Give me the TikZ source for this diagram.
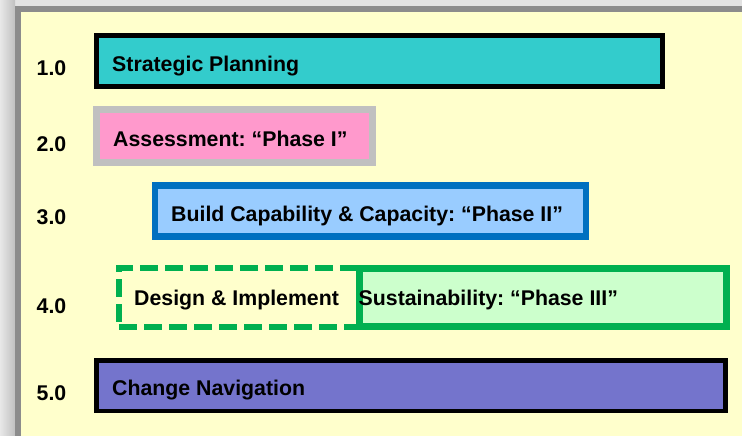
\documentclass[tikz,border=0pt]{standalone}
\usepackage{fontspec}
\setmainfont{Liberation Sans}
\frenchspacing
\begin{document}
\begin{tikzpicture}[x=1pt,y=-1pt,
  txt/.style={font=\fontsize{21.3}{25}\selectfont\bfseries, anchor=base west, inner sep=0pt, text=black},
  bar/.style={rectangle, inner sep=0pt, outer sep=0pt},
]
\definecolor{pagegray}{HTML}{E2E2E2}
\definecolor{framegray}{HTML}{8C8C8C}
\definecolor{panel}{HTML}{FFFFCC}
\definecolor{teal}{HTML}{33CCCC}
\definecolor{pinkfill}{HTML}{FF99CC}
\definecolor{silver}{HTML}{C0C0C0}
\definecolor{skyfill}{HTML}{99CCFF}
\definecolor{blueline}{HTML}{0070C0}
\definecolor{greenline}{HTML}{00B050}
\definecolor{mintfill}{HTML}{CCFFCC}
\definecolor{violet}{HTML}{7474CC}

\useasboundingbox (0,0) rectangle (742,436);
\clip (0,0) rectangle (742,436);

% page and framed panel
\fill[pagegray] (0,0) rectangle (742,436);
\shade[left color=pagegray!80!white, right color=pagegray!85!black] (0,0) rectangle (15,436);
\fill[framegray] (15,6) rectangle (750,450);
\fill[panel] (21,12) rectangle (750,450);

% phase bars
\node[bar, draw=black, fill=teal, line width=5pt,
      minimum width=565.9pt, minimum height=51pt] (sp) at (379.75,61.3) {};
\node[bar, draw=silver, fill=pinkfill, line width=7pt,
      minimum width=275.8pt, minimum height=53pt] (as) at (234.1,136) {};
\node[bar, draw=blueline, fill=skyfill, line width=6.5pt,
      minimum width=431pt, minimum height=51.2pt] (bc) at (370.5,211.1) {};
\node[bar, draw=greenline, line width=6pt, dash pattern=on 18pt off 7pt,
      minimum width=240pt, minimum height=59pt] (di) at (239,297.5) {};
\node[bar, draw=greenline, fill=mintfill, line width=7pt,
      minimum width=367pt, minimum height=58pt] (su) at (543,297.5) {};
\node[bar, draw=black, fill=violet, line width=4.5pt,
      minimum width=629pt, minimum height=50.7pt] (cn) at (411,385.65) {};

% bar texts
\node[txt] (sp-t) at (112,71) {Strategic Planning};
\node[txt] (as-t) at (113,146.7) {Assessment: “Phase I”};
\node[txt] (bc-t) at (171,221.7) {Build Capability \& Capacity: “Phase II”};
\node[txt] (di-t) at (134,305) {Design \& Implement};
\node[txt] (su-t) at (358.5,305) {Sustainability: “Phase III”};
\node[txt] (cn-t) at (112,395) {Change Navigation};

% step numbers
\node[txt] (n1) at (36.5,75.7) {1.0};
\node[txt] (n2) at (36.5,151.7) {2.0};
\node[txt] (n3) at (36.5,224) {3.0};
\node[txt] (n4) at (36.5,313.5) {4.0};
\node[txt] (n5) at (36.5,400.7) {5.0};
\end{tikzpicture}
\end{document}
